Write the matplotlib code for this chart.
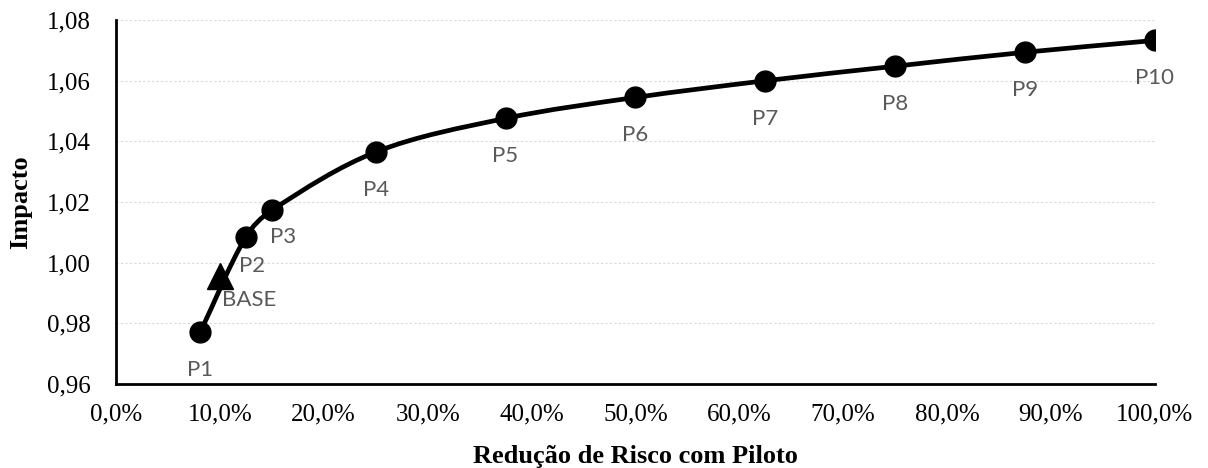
import matplotlib
matplotlib.use("Agg")
import matplotlib.pyplot as plt
from matplotlib.path import Path
from matplotlib.patches import PathPatch
from matplotlib.ticker import FuncFormatter

# data
labels = ["P1", "P2", "P3", "P4", "P5", "P6", "P7", "P8", "P9", "P10"]
reducao = [0.081, 0.125, 0.150, 0.250, 0.375, 0.500, 0.625, 0.750, 0.875, 1.000]
impacto = [0.977, 1.0085, 1.0173, 1.0365, 1.0476, 1.0545, 1.0600, 1.0648, 1.0694, 1.0733]
base_x = [0.100]
base_y = [0.9956]

SERIF = "Liberation Serif"
LABEL_FONT = "Lato"
GRAY = "#595959"


def smooth_path(xs, ys, sx=1039.0, sy=3033.0):
    """Linha suavizada (Catmull-Rom não uniforme, parâmetro = comprimento em pixels)"""
    pts = list(zip(xs, ys))
    n = len(pts)

    def dist(a, b):
        return (((b[0] - a[0]) * sx) ** 2 + ((b[1] - a[1]) * sy) ** 2) ** 0.5

    t = [0.0]
    for i in range(1, n):
        t.append(t[-1] + dist(pts[i - 1], pts[i]))

    def tangent(i):
        a = max(i - 1, 0)
        b = min(i + 1, n - 1)
        dt = t[b] - t[a]
        return ((pts[b][0] - pts[a][0]) / dt, (pts[b][1] - pts[a][1]) / dt)

    verts = [pts[0]]
    codes = [Path.MOVETO]
    for i in range(n - 1):
        h = t[i + 1] - t[i]
        m1, m2 = tangent(i), tangent(i + 1)
        c1 = (pts[i][0] + m1[0] * h / 3, pts[i][1] + m1[1] * h / 3)
        c2 = (pts[i + 1][0] - m2[0] * h / 3, pts[i + 1][1] - m2[1] * h / 3)
        verts += [c1, c2, pts[i + 1]]
        codes += [Path.CURVE4] * 3
    return Path(verts, codes)


fig = plt.figure(figsize=(12.08, 4.68), dpi=100)
ax = fig.add_axes([0.096, 0.1795, 0.86, 0.7775])

ax.add_patch(PathPatch(smooth_path(reducao, impacto), fill=False,
                       edgecolor="black", linewidth=3.4, zorder=3))
ax.plot(reducao, impacto, "o", color="black", markersize=15, zorder=4)
ax.plot(base_x, base_y, "^", color="black", markersize=19, zorder=4)

# rótulos dos pontos
offsets = {"P2": (-5, -14, "left"), "P3": (-1.5, -12, "left")}
for name, x, y in zip(labels, reducao, impacto):
    dx, dy, ha = offsets.get(name, (0, -20, "center"))
    ax.annotate(name, (x, y), xytext=(dx, dy), textcoords="offset points",
                ha=ha, va="top", fontsize=16, color=GRAY, family=LABEL_FONT)
ax.annotate("BASE", (base_x[0], base_y[0]), xytext=(1.5, -10), textcoords="offset points",
            ha="left", va="top", fontsize=16, color=GRAY, family=LABEL_FONT)

ax.set_xlim(0, 1.0)
ax.set_ylim(0.96, 1.08)
ax.set_xticks([i / 10 for i in range(11)])
ax.set_yticks([0.96, 0.98, 1.00, 1.02, 1.04, 1.06, 1.08])
ax.xaxis.set_major_formatter(FuncFormatter(lambda v, p: f"{v * 100:.1f}%".replace(".", ",")))
ax.yaxis.set_major_formatter(FuncFormatter(lambda v, p: f"{v:.2f}".replace(".", ",")))
ax.tick_params(length=0, labelsize=18, pad=18)
ax.tick_params(axis="x", pad=14)
for lab in ax.get_xticklabels() + ax.get_yticklabels():
    lab.set_fontfamily(SERIF)

ax.grid(axis="y", color="#d9d9d9", linestyle=(0, (2, 2)), linewidth=0.8)
ax.set_axisbelow(True)
for side in ("top", "right"):
    ax.spines[side].set_visible(False)
for side in ("left", "bottom"):
    ax.spines[side].set_linewidth(2)

ax.set_xlabel("Redução de Risco com Piloto", fontsize=19, fontweight="bold",
              family=SERIF, labelpad=14)
ax.set_ylabel("Impacto", fontsize=19, fontweight="bold", family=SERIF, labelpad=11)

fig.savefig("out.png", dpi=100)
